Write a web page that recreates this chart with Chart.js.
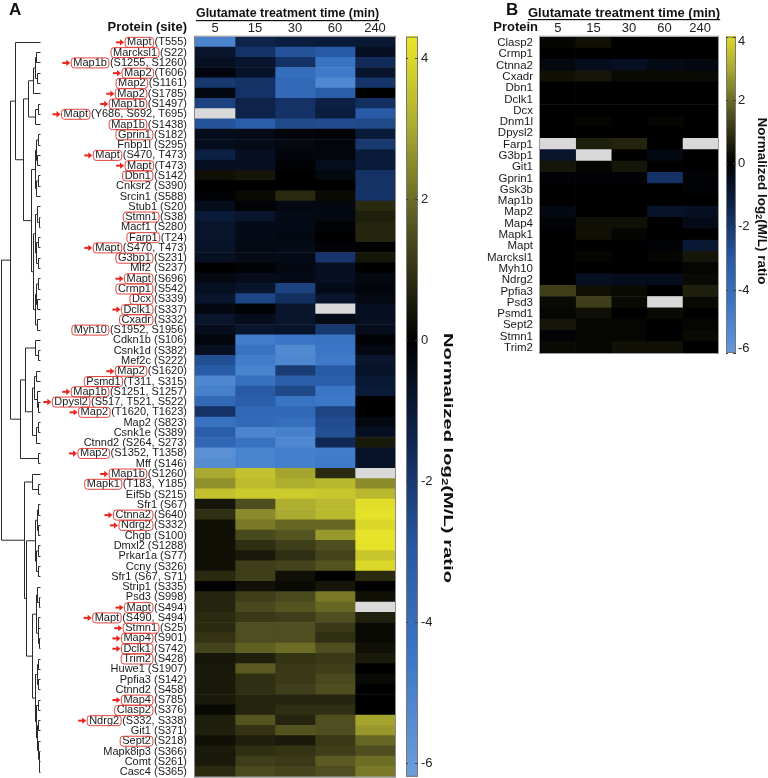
<!DOCTYPE html>
<html>
<head>
<meta charset="utf-8">
<script src="https://cdn.jsdelivr.net/npm/chart.js@4.4.0/dist/chart.umd.min.js"></script>
<style>
  body { margin: 0; background: #fff; }
  #wrapA { position: absolute; left: 0; top: 0; width: 470px; height: 778px; }
  #wrapB { position: absolute; left: 470px; top: 0; width: 298px; height: 778px; }
</style>
</head>
<body>
<div id="wrapA"><canvas id="chartA"></canvas></div>
<div id="wrapB"><canvas id="chartB"></canvas></div>
<script>
const FONT = '"Liberation Sans", Arial, Helvetica, sans-serif';

// ---- data ----
const timeLabels = ['5', '15', '30', '60', '240'];

const proteinsA = ['Mapt','Marcksl1','Map1b','Map2','Map2','Map2','Map1b','Mapt','Map1b','Gprin1',
  'Fnbp1l','Mapt','Mapt','Dbn1','Cnksr2','Srcin1','Stub1','Stmn1','Macf1','Farp1',
  'Mapt','G3bp1','Mlf2','Mapt','Crmp1','Dcx','Dclk1','Cxadr','Myh10','Cdkn1b',
  'Csnk1d','Mef2c','Map2','Psmd1','Map1b','Dpysl2','Map2','Map2','Csnk1e','Ctnnd2',
  'Map2','Mff','Map1b','Mapk1','Eif5b','Sfr1','Ctnna2','Ndrg2','Chgb','Dmxl2',
  'Prkar1a','Ccny','Sfr1','Strip1','Psd3','Mapt','Mapt','Stmn1','Map4','Dclk1',
  'Trim2','Huwe1','Ppfia3','Ctnnd2','Map4','Clasp2','Ndrg2','Git1','Sept2','Mapk8ip3',
  'Comt','Casc4'];

const sitesA = ['T555','S22','S1255, S1260','T606','S1161','S1785','S1497','Y686, S692, T695','S1438','S182',
  'S295','S470, T473','T473','S142','S390','S588','S20','S38','S280','T24',
  'S470, T473','S231','S237','S696','S542','S339','S337','S332','S1952, S1956','S106',
  'S382','S222','S1620','T311, S315','S1251, S1257','S517, T521, S522','T1620, T1623','S823','S389','S264, S273',
  'S1352, T1358','S146','S1260','T183, Y185','S215','S67','S640','S332','S100','S1288',
  'S77','S326','S67, S71','S335','S998','S494','S490, S494','S25','S901','S742',
  'S428','S1907','S142','S458','S785','S376','S332, S338','S371','S218','S366',
  'S261','S365'];

// 'a' = boxed + arrow, 'b' = boxed only
const marksA = ['a','b','a','a','b','a','a','a','b','b',
  '','a','a','b','','','','b','','b',
  'a','b','','a','b','b','a','b','b','',
  '','','a','b','a','a','a','','','',
  'a','','a','b','','','a','a','','',
  '','','','','','a','a','a','a','a',
  'b','','','','a','b','a','','b','',
  '',''];

// normalized log2(M/L) per row, columns 5/15/30/60/240 min; null = not quantified
const ratioA = [
  [-5.0,-1.3,-1.1,-1.0,-0.9], [-0.8,-1.8,-2.8,-3.0,-0.6], [-0.6,-0.8,-1.8,-4.3,-1.6], [-0.2,-0.7,-4.0,-4.6,-0.8],
  [-2.0,-1.8,-3.8,-5.2,-1.9], [-0.3,-1.8,-3.8,-3.2,0.0], [-2.3,-1.3,-1.8,-1.2,-1.7], [null,-1.3,-1.8,-1.1,-3.0],
  [-2.8,-3.2,-2.5,-2.6,-2.5], [-0.5,-0.4,-0.2,-0.1,-1.0], [-0.5,-0.4,-0.3,-0.2,-2.0], [-1.2,-0.6,-0.2,-0.2,-1.0],
  [-0.6,-0.6,-0.1,-0.5,-1.0], [0.3,0.4,0.0,-0.3,-1.8], [0.0,0.0,0.0,0.0,-1.8], [-0.1,0.2,0.8,0.2,-1.8],
  [-0.5,-0.1,-0.3,-0.3,0.8], [-1.0,-0.8,-0.4,-0.3,0.6], [-0.8,-0.4,-0.4,-0.1,0.7], [-0.8,-0.4,-0.3,0.0,0.7],
  [-0.7,-0.3,-0.4,-0.1,0.0], [-0.6,-0.4,-0.4,-1.9,0.4], [0.0,-0.1,-0.3,-0.6,0.0], [-0.3,-0.5,-0.4,-0.6,-0.3],
  [-0.6,-0.8,-2.3,-0.4,-0.2], [-0.8,-2.4,-1.7,-0.8,-0.3], [-0.3,-0.1,-0.8,null,-0.6], [-0.8,-0.5,-0.8,-0.4,-0.6],
  [-0.5,-0.8,-0.7,-2.0,-0.5], [-0.2,-4.7,-4.4,-4.3,-0.1], [-0.6,-4.2,-5.3,-4.4,-0.3], [-2.7,-4.7,-5.2,-4.6,-0.8],
  [-3.1,-5.0,-2.1,-3.1,-0.7], [-5.2,-4.1,-3.2,-3.2,-0.9], [-4.9,-3.0,-2.5,-4.4,-1.0], [-3.8,-3.2,-4.3,-4.5,0.0],
  [-1.8,-3.7,-3.7,-2.4,0.0], [-4.2,-3.8,-4.0,-2.6,-0.3], [-3.2,-5.1,-4.9,-2.7,-0.6], [-3.6,-4.2,-5.2,-1.5,0.5],
  [-5.6,-5.0,-4.8,-4.7,-0.7], [-5.4,-5.0,-4.8,-4.6,-0.7], [3.0,3.5,2.9,0.8,null], [2.6,3.4,3.1,3.3,2.5],
  [3.5,3.7,3.7,3.6,3.3], [0.4,1.5,3.1,3.3,4.1], [0.9,2.5,3.0,3.3,4.2], [0.3,2.2,1.9,1.9,4.0],
  [0.3,1.4,1.6,2.7,4.2], [0.3,0.9,1.2,1.5,4.2], [0.3,0.5,0.9,1.3,3.6], [0.3,1.2,1.3,1.6,4.0],
  [0.8,1.2,0.3,0.0,0.8], [0.0,0.3,0.2,0.4,0.0], [0.7,1.2,1.4,2.2,0.3], [0.7,1.4,1.6,1.9,null],
  [0.8,1.1,1.2,1.5,0.6], [0.8,1.5,1.5,1.1,0.2], [1.0,1.5,1.5,0.9,0.2], [1.3,1.8,2.0,1.5,0.3],
  [0.4,0.6,1.0,1.1,0.5], [0.5,1.7,1.1,1.2,0.0], [0.5,0.9,1.1,1.4,0.2], [0.5,0.9,1.2,1.5,0.0],
  [0.5,0.7,0.7,0.7,0.0], [0.2,0.7,0.9,0.9,0.0], [0.6,1.6,0.7,1.5,2.9], [0.6,1.0,1.6,1.5,2.7],
  [0.3,0.6,0.5,1.1,1.9], [0.5,0.9,1.0,1.2,1.5], [0.5,1.2,1.1,1.7,2.0], [0.8,1.4,1.3,1.5,2.2]
];

// clustering tree over rows of A: [left, right, linkage distance]
const treeA = [
  [[0, [[[[[1,2,0.9],[3,4,0.8],1.3],5,1.7], [[6,7,0.4],8,1.2], 3.1],
        [[[[9,10,0.5],[11,12,0.7],1.0],[[13,14,0.6],15,0.9],1.4],
         [[[16,[17,18,0.3],0.8],[[19,20,0.4],[21,22,0.5],0.9],1.2],
          [[[23,24,0.6],[25,26,0.7],1.0],[27,28,0.8],1.3],1.8], 2.3], 4.4], 6.4],
   [[[29,[30,31,0.6],1.4],[[[32,33,0.9],[34,[35,36,0.5],0.8],1.5],[[37,38,0.5],39,1.1],2.0],3.8],
    [40,41,0.5], 5.1], 7.7],
  [[42,[43,44,0.6],2.05],
   [[[[45,46,0.4],[47,48,0.5],0.8],[[49,50,0.4],[51,52,0.6],0.9],1.3],
    [[[53,[54,55,0.3],0.7],[[56,57,0.4],[58,59,0.3],0.6],1.1],
     [[[60,61,0.5],[62,63,0.4],0.8],[[64,65,0.4],[[66,67,0.5],[68,[69,[70,71,0.2],0.3],0.5],0.8],1.0],1.3],2.05], 3.7], 4.1],
  10];

const proteinsB = ['Clasp2','Crmp1','Ctnna2','Cxadr','Dbn1','Dclk1','Dcx','Dnm1l','Dpysl2','Farp1',
  'G3bp1','Git1','Gprin1','Gsk3b','Map1b','Map2','Map4','Mapk1','Mapt','Marcksl1',
  'Myh10','Ndrg2','Ppfia3','Psd3','Psmd1','Sept2','Stmn1','Trim2'];

const ratioB = [
  [0.1,0.3,0.0,0.0,0.0], [0.0,0.0,0.0,0.0,0.0], [-0.3,-0.5,-0.6,-0.4,-0.3], [0.3,0.4,0.2,0.2,0.2],
  [0.0,0.0,0.0,0.0,0.0], [0.0,0.0,0.0,0.0,0.0], [0.0,0.0,0.0,0.0,0.0], [0.0,0.1,0.0,0.1,0.0],
  [0.0,0.0,0.0,0.0,0.0], [null,0.6,0.7,0.0,null], [-0.8,null,0.0,-0.3,0.0], [0.4,0.1,0.4,0.0,0.0],
  [-0.1,-0.1,-0.1,-1.8,-0.1], [0.0,0.0,0.0,0.0,-0.1], [0.0,0.0,0.0,0.0,0.0], [-0.3,0.0,0.0,-0.7,-0.6],
  [-0.1,0.3,0.3,0.0,-0.4], [0.0,0.3,0.1,0.0,0.0], [0.0,0.0,0.0,-0.1,-0.9], [0.0,0.1,0.0,0.1,0.4],
  [0.0,0.0,0.0,0.0,0.1], [0.0,-0.6,-0.5,-0.5,0.2], [1.2,0.3,0.2,0.0,0.6], [0.2,1.2,0.2,null,0.2],
  [0.1,0.3,0.0,0.2,0.0], [0.4,0.1,0.1,0.0,0.1], [-0.1,0.1,0.1,0.0,0.2], [0.2,0.1,0.3,0.3,0.0]
];

const cbTicks = [4, 2, 0, -2, -4, -6];
const cbRangeA = [-6.2, 4.3];
const cbRangeB = [-6, 4];

// ---- colour map ----
const cmapStops = [-6.3, -4.5, -3, -1.5, 0, 1.5, 3, 4.3];
const cmapRGB = [[110,160,220],[60,120,200],[40,90,165],[15,40,85],[0,0,0],[78,78,32],[170,170,48],[235,230,40]];
const NAN_COLOR = '#d9d9d9';

function cmap(v) {
  if (v === null) return NAN_COLOR;
  if (v <= cmapStops[0]) return 'rgb(' + cmapRGB[0].join(',') + ')';
  for (let k = 1; k < cmapStops.length; k++) {
    if (v <= cmapStops[k]) {
      const t = (v - cmapStops[k-1]) / (cmapStops[k] - cmapStops[k-1]);
      const a = cmapRGB[k-1], b = cmapRGB[k];
      return 'rgb(' + a.map((c, j) => Math.round(c + (b[j] - c) * t)).join(',') + ')';
    }
  }
  return 'rgb(' + cmapRGB[cmapRGB.length-1].join(',') + ')';
}

function heatDatasets(rows) {
  return timeLabels.map((t, c) => ({
    label: t + ' min',
    data: rows.map(() => 1),
    backgroundColor: rows.map(r => cmap(r[c])),
    borderWidth: 0,
    barPercentage: 1,
    categoryPercentage: 1
  }));
}

function heatScales() {
  return {
    x: {
      type: 'linear', position: 'top', stacked: true, min: 0, max: 5,
      grid: { display: false, drawTicks: false }, border: { display: false },
      afterBuildTicks: s => { s.ticks = timeLabels.map((t, i) => ({ value: i + 0.5 })); },
      afterFit: s => { s.height = 14; },
      ticks: { autoSkip: false, maxRotation: 0, padding: 0, color: '#222',
               font: { family: FONT, size: 13 }, callback: (v, i) => timeLabels[i] }
    },
    y: { type: 'category', stacked: true, display: false, offset: true }
  };
}

// ---- drawing helpers ----
function roundRect(ctx, x, y, w, h, r) {
  ctx.beginPath();
  ctx.moveTo(x + r, y);
  ctx.arcTo(x + w, y, x + w, y + h, r);
  ctx.arcTo(x + w, y + h, x, y + h, r);
  ctx.arcTo(x, y + h, x, y, r);
  ctx.arcTo(x, y, x + w, y, r);
  ctx.closePath();
}

function drawArrow(ctx, xt, y) {
  ctx.fillStyle = '#e8251e';
  ctx.fillRect(xt - 8, y - 1, 5, 2);
  ctx.beginPath();
  ctx.moveTo(xt - 4, y - 3.2);
  ctx.lineTo(xt, y);
  ctx.lineTo(xt - 4, y + 3.2);
  ctx.closePath();
  ctx.fill();
}

function drawTree(ctx, node, yOf, xOf) {
  if (typeof node === 'number') return { x: xOf(0), y: yOf(node) };
  const a = drawTree(ctx, node[0], yOf, xOf);
  const b = drawTree(ctx, node[1], yOf, xOf);
  const x = xOf(node[2]);
  ctx.moveTo(a.x, a.y); ctx.lineTo(x, a.y); ctx.lineTo(x, b.y); ctx.lineTo(b.x, b.y);
  return { x: x, y: (a.y + b.y) / 2 };
}

// colour bar spans the heat map's height; value -> pixel is linear over that span
function drawColorbar(ctx, ca, range, x0, x1, labelX, title) {
  const [vMin, vMax] = range;
  const pix = v => ca.top + (vMax - v) / (vMax - vMin) * (ca.bottom - ca.top);
  for (let py = Math.floor(ca.top); py < ca.bottom; py++) {
    const v = vMax - (py + 0.5 - ca.top) / (ca.bottom - ca.top) * (vMax - vMin);
    ctx.fillStyle = cmap(v);
    ctx.fillRect(x0, py, x1 - x0, 1);
  }
  ctx.strokeStyle = '#777'; ctx.lineWidth = 1;
  ctx.strokeRect(x0 + 0.5, ca.top + 0.5, x1 - x0 - 1, ca.bottom - ca.top - 1);
  ctx.font = '13px ' + FONT; ctx.fillStyle = '#222';
  ctx.textAlign = 'left'; ctx.textBaseline = 'middle';
  cbTicks.forEach(v => {
    const py = Math.round(pix(v)) + 0.5;
    ctx.strokeStyle = '#444';
    ctx.beginPath();
    ctx.moveTo(x1 - 3, py); ctx.lineTo(x1, py);
    ctx.moveTo(x0, py); ctx.lineTo(x0 + 2, py);
    ctx.stroke();
    ctx.fillText(String(v), labelX, Math.min(Math.max(py, ca.top + 5), ca.bottom - 5));
  });
  // rotated axis title with subscript, stretched along its length to fit
  ctx.save();
  ctx.translate(title.x, title.y);
  ctx.rotate(Math.PI / 2);
  const big = 'bold 13px ' + FONT, small = 'bold 8.5px ' + FONT;
  ctx.font = big; const w1 = ctx.measureText('Normalized log').width, w3 = ctx.measureText('(M/L) ratio').width;
  ctx.font = small; const w2 = ctx.measureText('2').width;
  const total = w1 + w2 + w3;
  ctx.scale(title.len / total, 1);
  let sx = -total / 2;
  ctx.fillStyle = '#111'; ctx.textBaseline = 'middle'; ctx.textAlign = 'left';
  ctx.font = big; ctx.fillText('Normalized log', sx, 0); sx += w1;
  ctx.font = small; ctx.fillText('2', sx, 3.5); sx += w2;
  ctx.font = big; ctx.fillText('(M/L) ratio', sx, 0);
  ctx.restore();
}

function drawTitle(ctx, text, x, y, size) {
  ctx.font = 'bold ' + size + 'px ' + FONT; ctx.fillStyle = '#111';
  ctx.textAlign = 'left'; ctx.textBaseline = 'middle';
  ctx.fillText(text, x, y);
  const w = ctx.measureText(text).width;
  ctx.fillRect(x, y + 6, w, 1.2);
}

// ---- panel plugins ----
const panelA = {
  id: 'panelA',
  afterDraw(chart) {
    const { ctx, chartArea: ca, scales } = chart;
    const y = scales.y;
    ctx.save();
    ctx.strokeStyle = '#8a8a8a'; ctx.lineWidth = 1;
    ctx.strokeRect(ca.left - 0.5, ca.top - 0.5, ca.right - ca.left + 1, ca.bottom - ca.top + 1);

    ctx.font = '11px ' + FONT; ctx.textBaseline = 'middle'; ctx.textAlign = 'left';
    proteinsA.forEach((p, i) => {
      const py = y.getPixelForValue(i);
      const full = p + ' (' + sitesA[i] + ')';
      const x0 = ca.left - 8 - ctx.measureText(full).width;
      ctx.fillStyle = '#1a1a1a';
      ctx.fillText(full, x0, py + 0.5);
      if (marksA[i]) {
        const pw = ctx.measureText(p).width;
        ctx.strokeStyle = '#e2453e'; ctx.lineWidth = 1;
        roundRect(ctx, x0 - 2, py - 4.5, pw + 4, 10, 3);
        ctx.stroke();
        if (marksA[i] === 'a') drawArrow(ctx, x0 - 3, py + 0.5);
      }
    });

    ctx.strokeStyle = '#2a2a2a'; ctx.lineWidth = 1;
    ctx.beginPath();
    drawTree(ctx, treeA, i => Math.round(y.getPixelForValue(i)) + 0.5, d => Math.round(40 - d * 3.9) + 0.5);
    ctx.stroke();

    drawColorbar(ctx, ca, cbRangeA, 406, 418, 421, { x: 448, y: 458, len: 250 });

    ctx.font = 'bold 17px ' + FONT; ctx.fillStyle = '#111'; ctx.textAlign = 'left'; ctx.textBaseline = 'middle';
    ctx.fillText('A', 9, 10);
    drawTitle(ctx, 'Glutamate treatment time (min)', 196, 14, 12.4);
    ctx.font = 'bold 13px ' + FONT; ctx.textAlign = 'right';
    ctx.fillText('Protein (site)', 187, 27);
    ctx.restore();
  }
};

const panelB = {
  id: 'panelB',
  afterDraw(chart) {
    const { ctx, chartArea: ca, scales } = chart;
    const y = scales.y;
    ctx.save();
    ctx.strokeStyle = '#9a9a9a'; ctx.lineWidth = 1;
    ctx.strokeRect(ca.left - 0.5, ca.top - 0.5, ca.right - ca.left + 1, ca.bottom - ca.top + 1);
    ctx.font = '11.5px ' + FONT; ctx.textBaseline = 'middle'; ctx.textAlign = 'right'; ctx.fillStyle = '#1a1a1a';
    proteinsB.forEach((p, i) => ctx.fillText(p, ca.left - 7, y.getPixelForValue(i) + 0.5));

    drawColorbar(ctx, ca, cbRangeB, ca.right + 8, ca.right + 18, ca.right + 20, { x: ca.right + 44, y: 201, len: 167 });

    ctx.font = 'bold 17px ' + FONT; ctx.fillStyle = '#111'; ctx.textAlign = 'left'; ctx.textBaseline = 'middle';
    ctx.fillText('B', 36, 10);
    drawTitle(ctx, 'Glutamate treatment time (min)', 58, 13, 13);
    ctx.font = 'bold 13px ' + FONT; ctx.textAlign = 'right';
    ctx.fillText('Protein', 68, 27);
    ctx.restore();
  }
};

function makeChart(canvasId, labels, rows, padding, plugin) {
  return new Chart(document.getElementById(canvasId), {
    type: 'bar',
    data: { labels: labels, datasets: heatDatasets(rows) },
    options: {
      indexAxis: 'y',
      responsive: true,
      maintainAspectRatio: false,
      animation: false,
      events: [],
      layout: { padding: padding },
      scales: heatScales(),
      plugins: { legend: { display: false }, tooltip: { enabled: false } }
    },
    plugins: [plugin]
  });
}

makeChart('chartA', proteinsA.map((p, i) => p + ' (' + sitesA[i] + ')'), ratioA,
  { left: 195, right: 75, top: 22.7, bottom: 1.3 }, panelA);
makeChart('chartB', proteinsB, ratioB,
  { left: 70, right: 50, top: 22.7, bottom: 425 }, panelB);
</script>
</body>
</html>
